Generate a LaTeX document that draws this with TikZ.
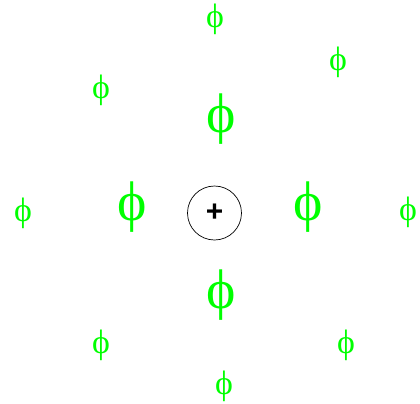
\documentclass[tikz,border=0pt]{standalone}
\usepackage{fontspec}
\setmainfont{Liberation Serif}
\newfontfamily\plusfont{Liberation Sans}
\definecolor{phigreen}{RGB}{0,255,0}
\tikzset{
  bigphi/.style={text=phigreen, inner sep=0pt, font=\fontsize{56}{60}\selectfont},
  smallphi/.style={text=phigreen, inner sep=0pt, font=\fontsize{34}{38}\selectfont},
  hub/.style={circle, draw=black, line width=0.7pt, minimum size=54bp, inner sep=0pt, font=\plusfont\bfseries\fontsize{30}{32}\selectfont}
}
\begin{document}
\begin{tikzpicture}[x=1bp,y=-1bp]
\useasboundingbox (0,0) rectangle (420,404);
\node[hub] (c) at (214.5,213) {+};
\node[bigphi] (p1) at (221,119) {ϕ};
\node[bigphi] (p2) at (132,207) {ϕ};
\node[bigphi] (p3) at (308,207) {ϕ};
\node[bigphi] (p4) at (221,295) {ϕ};
\node[smallphi] (s1) at (215,19) {ϕ};
\node[smallphi] (s2) at (338,62) {ϕ};
\node[smallphi] (s3) at (101,90) {ϕ};
\node[smallphi] (s4) at (23,213) {ϕ};
\node[smallphi] (s5) at (408,212) {ϕ};
\node[smallphi] (s6) at (101,345) {ϕ};
\node[smallphi] (s7) at (346,345) {ϕ};
\node[smallphi] (s8) at (224,386) {ϕ};
\end{tikzpicture}
\end{document}
